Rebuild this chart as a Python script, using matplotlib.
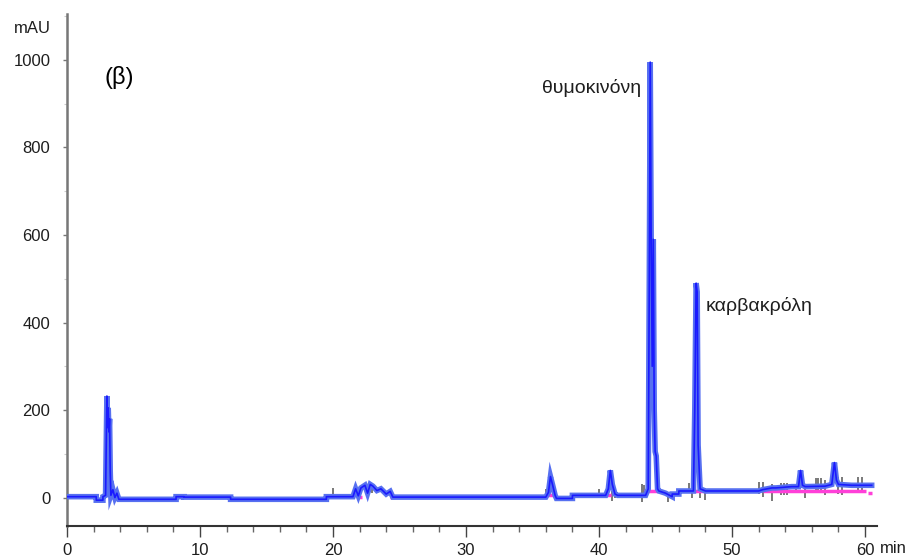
import matplotlib
matplotlib.use("Agg")
import matplotlib.pyplot as plt

# main detector trace, breakpoints (min, mAU)
trace_time = [
    0.0, 2.2, 2.2, 2.7, 2.7, 2.9, 2.95, 3.0, 3.05, 3.1, 3.15, 3.2, 3.25, 3.3,
    3.45, 3.6, 3.75, 3.9, 8.2, 8.2, 8.8, 8.8, 12.3, 12.3, 19.5, 19.5, 21.5,
    21.7, 21.9, 22.1, 22.4, 22.6, 22.8, 23.0, 23.3, 23.6, 24.0, 24.3, 24.5,
    36.0, 36.2, 36.35, 36.5, 36.7, 36.8, 38.0, 38.0, 40.5, 40.7, 40.85, 41.0,
    41.2, 41.4, 43.5, 43.7, 43.78, 43.85, 43.92, 44.0, 44.08, 44.15, 44.22,
    44.3, 44.4, 44.5, 45.0, 45.5, 45.5, 46.0, 46.0, 47.1, 47.2, 47.3, 47.38,
    47.45, 47.6, 48.0, 52.0, 52.3, 53.0, 53.3, 54.5, 55.0, 55.15, 55.3,
    55.5, 57.0, 57.5, 57.7, 57.85, 58.0, 59.0, 60.5,
]
trace_abs = [
    2, 2, -6, -6, 2, 5, 120, 232, 160, 205, 150, 180, 60, 5,
    18, 0, 10, -4, -4, 2, 2, 1, 1, -4, -4, 2, 2,
    20, 4, 22, 28, 10, 30, 26, 16, 20, 8, 14, 1,
    1, 12, 48, 30, 5, -2, -2, 5, 5, 20, 62, 30,
    8, 5, 5, 20, 500, 995, 600, 300, 590, 200, 105,
    95, 20, 15, 10, 2, 8, 8, 15, 15, 200, 490, 470,
    120, 20, 15, 15, 18, 22, 22, 25, 25, 62, 28,
    25, 26, 30, 80, 40, 30, 28, 28,
]

# pink baseline-fit segments (start, end, level)
pink_start = [21.8, 24.3, 36.1, 40.1, 43.4, 46.9, 52.3, 60.2]
pink_end = [22.2, 24.6, 36.6, 40.9, 44.7, 48.1, 60.1, 60.5]
pink_level = [2, 2, 6, 6, 16, 14, 16, 10]

# grey integration marks (time, low, high)
mark_time = [2.8, 20.0, 22.0, 22.9, 36.0, 40.0, 41.0, 41.2, 43.2, 43.4, 45.2,
             46.8, 47.0, 47.6, 48.0, 52.0, 52.3, 53.0, 53.7, 53.9, 54.1, 54.8,
             55.5, 56.3, 56.5, 56.7, 57.0, 58.0, 58.3, 59.5, 59.8]
mark_low = [-2, 2, -2, 10, 1, 0, -8, 0, -10, 3, -10, 10, 0, -2, -5, 8, 2, -8,
            5, 5, 5, 10, 0, 10, 10, 10, 5, 8, 5, 10, 10]
mark_high = [15, 22, 16, 30, 20, 20, 15, 18, 30, 28, 12, 34, 38, 34, 22, 35,
             35, 30, 34, 34, 34, 32, 30, 44, 44, 44, 40, 46, 46, 48, 48]

y_ticks = [0, 200, 400, 600, 800, 1000]
x_ticks = [0, 10, 20, 30, 40, 50, 60]

plt.rcParams["font.family"] = ["Liberation Sans", "DejaVu Sans"]

figure = plt.figure(figsize=(9.12, 5.58), dpi=100)
axis = figure.add_axes([67 / 912, 32 / 558, 810 / 912, 512 / 558])

for start, end, level in zip(pink_start, pink_end, pink_level):
    axis.plot([start, end], [level, level], color="#ff40d8", linewidth=2.5,
              solid_capstyle="butt", zorder=2)
axis.vlines(mark_time, mark_low, mark_high, color="#6e6e6e", linewidth=1.3,
            zorder=1)
axis.plot(trace_time, trace_abs, color="#5770f0", linewidth=4.0, zorder=3,
          solid_joinstyle="miter")
axis.plot(trace_time, trace_abs, color="#1a1aff", linewidth=1.2, zorder=4)

axis.set_xlim(0, 60.9)
axis.set_ylim(-65, 1105)
axis.set_xticks(x_ticks)
axis.set_xticks(range(0, 61, 2), minor=True)
axis.set_yticks(y_ticks)
axis.set_yticks(range(0, 1101, 100), minor=True)
axis.tick_params(axis="both", labelsize=12, colors="#1e1e1e")
axis.tick_params(axis="x", direction="out", length=8, width=1.0, pad=4,
                 color="#444444")
axis.tick_params(axis="x", which="minor", length=4, width=1.0, color="#666666")
axis.tick_params(axis="y", direction="out", length=3, width=1.0, pad=9,
                 color="#777777")
axis.tick_params(axis="y", which="minor", length=2, width=0.8, color="#cccccc")

for side in ["top", "right"]:
    axis.spines[side].set_visible(False)
axis.spines["left"].set_color("#777777")
axis.spines["left"].set_linewidth(1.8)
axis.spines["bottom"].set_color("#333333")
axis.spines["bottom"].set_linewidth(1.5)

axis.text(-2.63, 1073, "mAU", fontsize=12, ha="center", va="center",
          color="#1e1e1e")
axis.text(1.003, -0.044, "min", transform=axis.transAxes, fontsize=12,
          ha="left", va="center", color="#1e1e1e")
axis.text(2.8, 960, "(β)", fontsize=17, color="black", va="center")
axis.text(43.2, 935, "θυμοκινόνη", fontsize=14, color="#1e1e1e",
          ha="right", va="center")
axis.text(48.0, 437, "καρβακρόλη", fontsize=14, color="#1e1e1e",
          ha="left", va="center")

figure.savefig("out.png", dpi=100)
